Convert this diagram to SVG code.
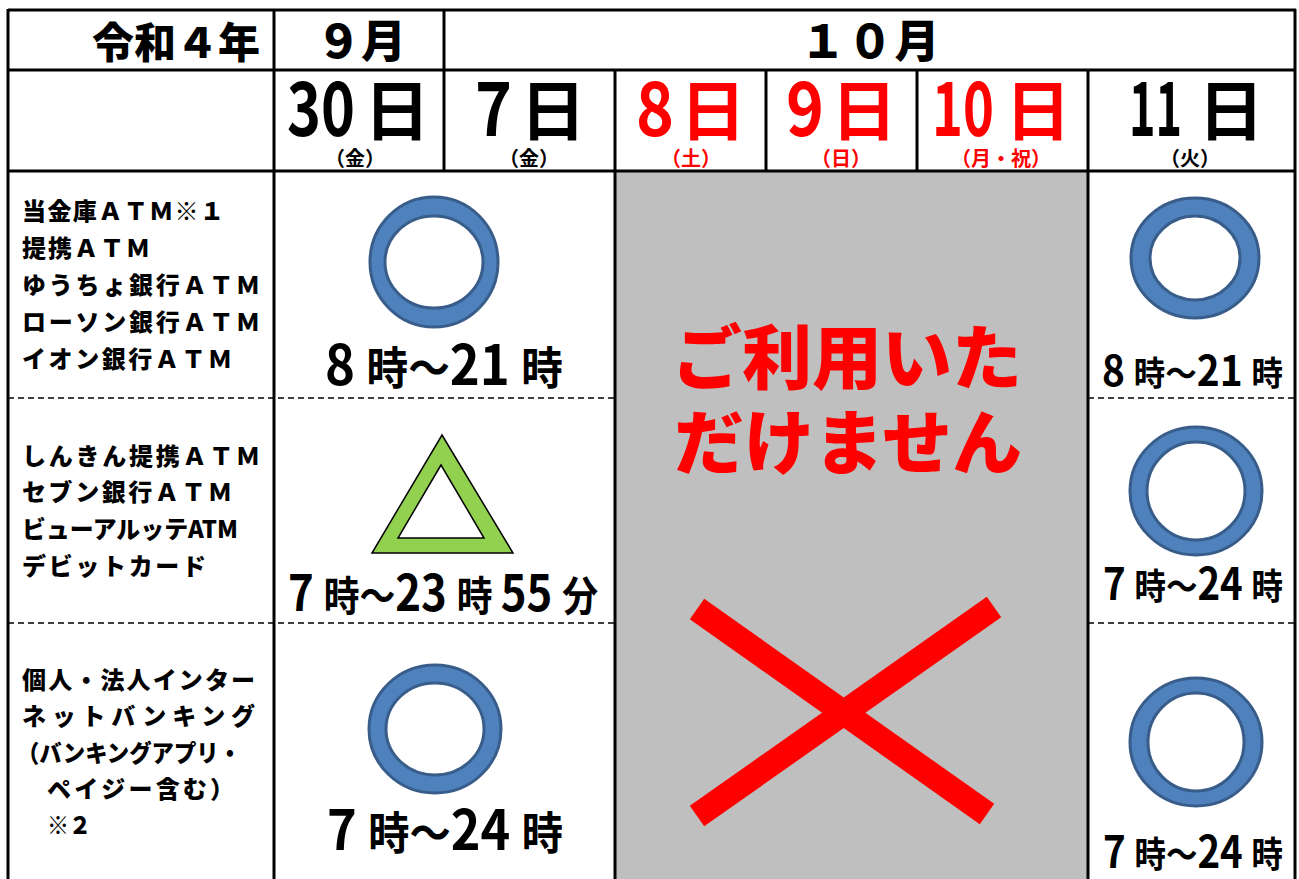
<svg xmlns="http://www.w3.org/2000/svg" width="1299" height="879" viewBox="0 0 1299 879">
<style>
text{font-family:"Noto Sans CJK JP","Noto Sans",sans-serif;font-weight:700;fill:#000}
.red{fill:#FF0000}
.lbl{font-size:24px;font-weight:900}
.dow{font-size:20px;text-anchor:middle}
.num{font-size:75px;font-weight:700}
.hi{font-size:66px;font-weight:700;text-anchor:middle}
.hd{font-weight:900}
.grid{stroke:#000;stroke-width:3;fill:none}
.dash{stroke:#000;stroke-width:1.5;stroke-dasharray:6 4;fill:none}
.ring{fill:#4F81BD;stroke:#385D8A;stroke-width:3;fill-rule:evenodd}
.tri{fill:#92D050;stroke:#000;stroke-width:1.5;fill-rule:evenodd}
.big{font-size:70px;font-weight:900;text-anchor:middle}
</style>
<rect x="0" y="0" width="1299" height="879" fill="#fff"/>
<rect id="closed-area" x="615" y="171" width="473" height="708" fill="#BFBFBF"/>

<g id="grid">
<line class="grid" x1="8" y1="10" x2="1296" y2="10"/>
<line class="grid" x1="8" y1="70" x2="1296" y2="70"/>
<line class="grid" x1="8" y1="171" x2="1296" y2="171"/>
<line class="grid" x1="8" y1="9" x2="8" y2="879"/>
<line class="grid" x1="274" y1="10" x2="274" y2="879"/>
<line class="grid" x1="444" y1="10" x2="444" y2="171"/>
<line class="grid" x1="615" y1="70" x2="615" y2="879"/>
<line class="grid" x1="766" y1="70" x2="766" y2="171"/>
<line class="grid" x1="917" y1="70" x2="917" y2="171"/>
<line class="grid" x1="1088" y1="70" x2="1088" y2="879"/>
<line class="grid" x1="1295" y1="9" x2="1295" y2="879"/>
<line class="dash" x1="8" y1="398" x2="615" y2="398"/>
<line class="dash" x1="1088" y1="398" x2="1295" y2="398"/>
<line class="dash" x1="8" y1="623" x2="615" y2="623"/>
<line class="dash" x1="1088" y1="623" x2="1295" y2="623"/>
</g>

<g id="header-year">
<text class="hd" x="260" y="58" font-size="42" text-anchor="end">令和４年</text>
</g>
<g id="header-sep">
<text class="hd" x="361" y="58" font-size="45" text-anchor="middle">９月</text>
</g>
<g id="header-oct">
<text class="hd" x="871" y="58" font-size="45" text-anchor="middle" letter-spacing="2">１０月</text>
</g>

<g id="day-30">
<text class="num" x="287" y="136" textLength="68" lengthAdjust="spacingAndGlyphs">30</text>
<text class="hi" x="397" y="135">日</text>
<text class="dow" x="355" y="166">（金）</text>
</g>
<g id="day-7">
<text class="num" x="475" y="136" textLength="37" lengthAdjust="spacingAndGlyphs">7</text>
<text class="hi" x="553" y="135">日</text>
<text class="dow" x="529" y="166">（金）</text>
</g>
<g id="day-8">
<text class="num red" x="636" y="136" textLength="38" lengthAdjust="spacingAndGlyphs">8</text>
<text class="hi red" x="713" y="135">日</text>
<text class="dow red" x="691" y="166">（土）</text>
</g>
<g id="day-9">
<text class="num red" x="786" y="136" textLength="38" lengthAdjust="spacingAndGlyphs">9</text>
<text class="hi red" x="864" y="135">日</text>
<text class="dow red" x="841" y="166">（日）</text>
</g>
<g id="day-10">
<text class="num red" x="932" y="136" textLength="62" lengthAdjust="spacingAndGlyphs">10</text>
<text class="hi red" x="1038" y="135">日</text>
<text class="dow red" x="1001" y="166">（月・祝）</text>
</g>
<g id="day-11">
<text class="num" x="1129" y="136" textLength="53" lengthAdjust="spacingAndGlyphs">11</text>
<text class="hi" x="1231" y="135">日</text>
<text class="dow" x="1190" y="166">（火）</text>
</g>

<g id="label-atm">
<text class="lbl" x="22" y="220" textLength="202" lengthAdjust="spacing">当金庫ＡＴＭ※１</text>
<text class="lbl" x="22" y="257" textLength="128" lengthAdjust="spacing">提携ＡＴＭ</text>
<text class="lbl" x="22" y="294" textLength="238" lengthAdjust="spacing">ゆうちょ銀行ＡＴＭ</text>
<text class="lbl" x="22" y="331" textLength="238" lengthAdjust="spacing">ローソン銀行ＡＴＭ</text>
<text class="lbl" x="22" y="368" textLength="210" lengthAdjust="spacing">イオン銀行ＡＴＭ</text>
</g>
<g id="label-shinkin">
<text class="lbl" x="22" y="465" textLength="238" lengthAdjust="spacing">しんきん提携ＡＴＭ</text>
<text class="lbl" x="22" y="501" textLength="210" lengthAdjust="spacing">セブン銀行ＡＴＭ</text>
<text class="lbl" x="22" y="538" textLength="216" lengthAdjust="spacingAndGlyphs">ビューアルッテATM</text>
<text class="lbl" x="22" y="575" textLength="184" lengthAdjust="spacing">デビットカード</text>
</g>
<g id="label-net">
<text class="lbl" x="22" y="689" textLength="233" lengthAdjust="spacing">個人・法人インター</text>
<text class="lbl" x="22" y="725" textLength="233" lengthAdjust="spacing">ネットバンキング</text>
<text class="lbl" x="17" y="762" textLength="224" lengthAdjust="spacingAndGlyphs">（バンキングアプリ・</text>
<text class="lbl" x="47" y="798" textLength="187" lengthAdjust="spacing">ペイジー含む）</text>
<text class="lbl" x="47" y="834" textLength="44" lengthAdjust="spacingAndGlyphs">※２</text>
</g>

<g id="cell-sep-atm">
<path class="ring" d="M370,262 a64,65 0 1,0 128,0 a64,65 0 1,0 -128,0 Z M385,262 a49,46 0 1,0 98,0 a49,46 0 1,0 -98,0 Z"/>
<text x="325" y="385" textLength="238" lengthAdjust="spacingAndGlyphs"><tspan font-size="55">8 </tspan><tspan font-size="45">時～</tspan><tspan font-size="55">21 </tspan><tspan font-size="45">時</tspan></text>
</g>
<g id="cell-sep-shinkin">
<path class="tri" d="M442,435 L513,553 L372,553 Z M441,465 L398,538 L484,538 Z"/>
<text x="288" y="611" textLength="310" lengthAdjust="spacingAndGlyphs"><tspan font-size="50">7 </tspan><tspan font-size="41">時～</tspan><tspan font-size="50">23 </tspan><tspan font-size="41">時 </tspan><tspan font-size="50">55 </tspan><tspan font-size="41">分</tspan></text>
</g>
<g id="cell-sep-net">
<path class="ring" d="M369,729 a66,64 0 1,0 132,0 a66,64 0 1,0 -132,0 Z M386,729 a49,46 0 1,0 98,0 a49,46 0 1,0 -98,0 Z"/>
<text x="327" y="850" textLength="236" lengthAdjust="spacingAndGlyphs"><tspan font-size="55">7 </tspan><tspan font-size="45">時～</tspan><tspan font-size="55">24 </tspan><tspan font-size="45">時</tspan></text>
</g>

<g id="closed-message">
<text class="big red" x="847" y="384">ご利用いた</text>
<text class="big red" x="848" y="469">だけません</text>
<g stroke="#FF0000" stroke-width="25" stroke-linecap="butt">
<line x1="697" y1="609" x2="987" y2="814"/>
<line x1="697" y1="816" x2="994" y2="607"/>
</g>
</g>

<g id="cell-11-atm">
<path class="ring" d="M1131,258 a64,60 0 1,0 128,0 a64,60 0 1,0 -128,0 Z M1150,258 a45,42 0 1,0 90,0 a45,42 0 1,0 -90,0 Z"/>
<text x="1102" y="386" textLength="181" lengthAdjust="spacingAndGlyphs"><tspan font-size="42">8 </tspan><tspan font-size="34">時～</tspan><tspan font-size="42">21 </tspan><tspan font-size="34">時</tspan></text>
</g>
<g id="cell-11-shinkin">
<path class="ring" d="M1130,491 a66,64 0 1,0 132,0 a66,64 0 1,0 -132,0 Z M1147,491 a49,49 0 1,0 98,0 a49,49 0 1,0 -98,0 Z"/>
<text x="1103" y="600" textLength="180" lengthAdjust="spacingAndGlyphs"><tspan font-size="44">7 </tspan><tspan font-size="36">時～</tspan><tspan font-size="44">24 </tspan><tspan font-size="36">時</tspan></text>
</g>
<g id="cell-11-net">
<path class="ring" d="M1130,742 a66,64 0 1,0 132,0 a66,64 0 1,0 -132,0 Z M1148,742 a48,49 0 1,0 96,0 a48,49 0 1,0 -96,0 Z"/>
<text x="1103" y="868" textLength="180" lengthAdjust="spacingAndGlyphs"><tspan font-size="44">7 </tspan><tspan font-size="36">時～</tspan><tspan font-size="44">24 </tspan><tspan font-size="36">時</tspan></text>
</g>
</svg>
